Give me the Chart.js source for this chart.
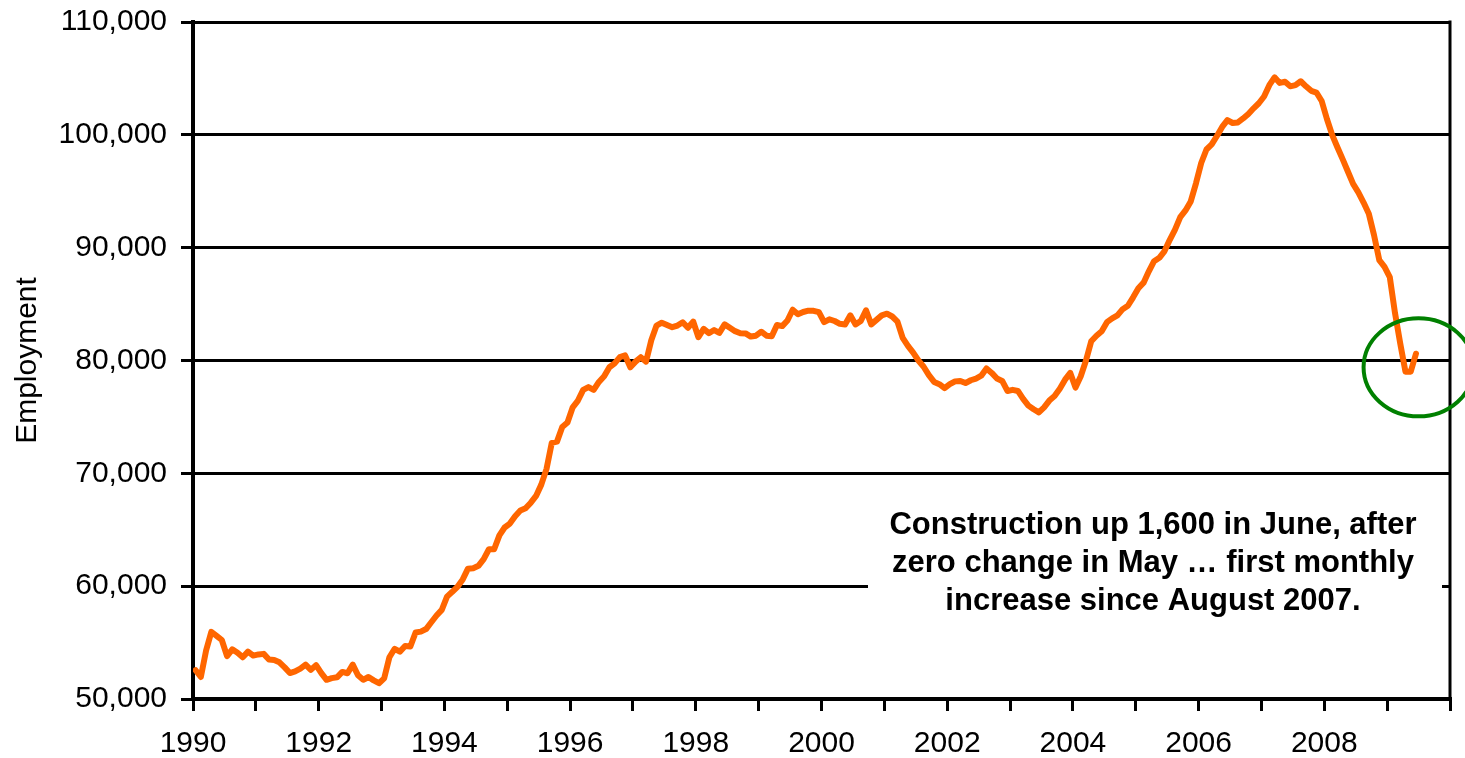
<!DOCTYPE html>
<html>
<head>
<meta charset="utf-8">
<script src="https://cdn.jsdelivr.net/npm/chart.js@4.4.1/dist/chart.umd.min.js"></script>
<style>
body { margin: 0; background: #fff; }
#wrap { width: 1465px; height: 758px; }
</style>
</head>
<body>
<div id="wrap"><canvas id="chart" width="1465" height="758"></canvas></div>
<script>
const FONT = "'Liberation Sans', Arial, sans-serif";

// monthly employment, Jan 1990 .. Jun 2009
const startYear = 1990;
const employment = [
  52550, 51950, 54300, 55950, 55600, 55230, 53800, 54400, 54100, 53700, 54200, 53850, // 1990
  53950, 54000, 53500, 53460, 53250, 52800, 52300, 52450, 52700, 53050, 52580, 53000, // 1991
  52300, 51700, 51850, 51920, 52400, 52280, 53050, 52100, 51700, 51950, 51650, 51400, // 1992
  51830, 53700, 54450, 54200, 54700, 54650, 55900, 55970, 56200, 56800, 57400, 57900, // 1993
  59070, 59500, 59950, 60600, 61550, 61590, 61800, 62400, 63270, 63270, 64500, 65200, // 1994
  65550, 66200, 66700, 66900, 67400, 68000, 69000, 70400, 72700, 72810, 74100, 74500, // 1995
  75850, 76450, 77400, 77640, 77390, 78100, 78600, 79400, 79750, 80300, 80450, 79400, // 1996
  79900, 80290, 79900, 81800, 83100, 83350, 83150, 82950, 83100, 83390, 82900, 83450, // 1997
  82060, 82800, 82420, 82700, 82450, 83200, 82900, 82600, 82420, 82400, 82120, 82200, // 1998
  82550, 82200, 82150, 83150, 83050, 83550, 84500, 84100, 84300, 84420, 84400, 84280, // 1999
  83400, 83650, 83500, 83250, 83200, 84000, 83200, 83500, 84450, 83200, 83600, 84000, // 2000
  84150, 83900, 83450, 82000, 81300, 80700, 80000, 79450, 78700, 78100, 77900, 77550, // 2001
  77900, 78150, 78190, 78000, 78250, 78400, 78650, 79300, 78900, 78400, 78190, 77300, // 2002
  77400, 77300, 76600, 76000, 75680, 75400, 75850, 76450, 76850, 77500, 78300, 78900, // 2003
  77600, 78600, 80000, 81700, 82200, 82600, 83400, 83740, 84000, 84550, 84850, 85600, // 2004
  86400, 86900, 87900, 88800, 89100, 89700, 90700, 91600, 92700, 93300, 94100, 95700, // 2005
  97500, 98700, 99150, 99900, 100700, 101300, 101050, 101100, 101450, 101850, 102350, 102800, // 2006
  103400, 104400, 105100, 104600, 104700, 104300, 104400, 104750, 104300, 103900, 103750, 103000, // 2007
  101400, 100000, 98900, 97850, 96750, 95650, 94900, 94000, 93000, 91100, 88900, 88300, // 2008
  87400, 84200, 81500, 79000, 79000, 80600 // 2009
];

const yearLabels = [1990, 1992, 1994, 1996, 1998, 2000, 2002, 2004, 2006, 2008];
const noteLines = [
  'Construction up 1,600 in June, after',
  'zero change in May \u2026 first monthly',
  'increase since August 2007.'
];

// each month sits mid-month on the year axis
const points = employment.map((v, i) => ({ x: startYear + (i + 0.5) / 12, y: v }));

const overlay = {
  id: 'overlay',
  afterDraw(chart) {
    const { ctx, chartArea: a, scales: { x, y } } = chart;
    ctx.save();

    // note box hides the gridline behind it
    ctx.fillStyle = '#fff';
    ctx.fillRect(868, 495, 574, 150);
    ctx.fillStyle = '#000';
    ctx.font = 'bold 31px ' + FONT;
    ctx.textAlign = 'center';
    ctx.textBaseline = 'middle';
    noteLines.forEach((t, i) => ctx.fillText(t, 1153, 525 + i * 38));

    // right frame line
    ctx.strokeStyle = '#000';
    ctx.lineWidth = 3;
    ctx.beginPath();
    ctx.moveTo(a.right, a.top - 1.5);
    ctx.lineTo(a.right, a.bottom);
    ctx.stroke();

    // green ring round the latest months
    ctx.strokeStyle = '#008000';
    ctx.lineWidth = 4;
    ctx.beginPath();
    ctx.ellipse(x.getPixelForValue(2009.5), y.getPixelForValue(79400), 55, 49, 0, 0, Math.PI * 2);
    ctx.stroke();
    ctx.restore();
  }
};

new Chart(document.getElementById('chart'), {
  type: 'line',
  data: {
    datasets: [{
      data: points,
      borderColor: '#FF6600',
      borderWidth: 6,
      pointRadius: 0,
      tension: 0,
      borderJoinStyle: 'round',
      borderCapStyle: 'round'
    }]
  },
  options: {
    responsive: false,
    animation: false,
    layout: { padding: { top: 22, right: 15, bottom: 0, left: 0 } },
    plugins: {
      legend: { display: false },
      tooltip: { enabled: false }
    },
    scales: {
      x: {
        type: 'linear',
        min: 1990,
        max: 2010,
        ticks: {
          stepSize: 1,
          autoSkip: false,
          maxRotation: 0,
          padding: 15,
          color: '#000',
          font: { family: FONT, size: 30 },
          callback: v => yearLabels.includes(v) ? String(v) : ''
        },
        grid: { drawOnChartArea: false, tickLength: 12, color: '#000', lineWidth: 3 },
        border: { color: '#000', width: 4 },
        afterFit: s => { s.height = 59; }
      },
      y: {
        min: 50000,
        max: 110000,
        ticks: {
          stepSize: 10000,
          padding: 14,
          color: '#000',
          font: { family: FONT, size: 30 },
          callback: v => v.toLocaleString('en-US')
        },
        grid: { color: '#000', lineWidth: 3, tickLength: 12 },
        border: { color: '#000', width: 4 },
        title: {
          display: true,
          text: 'Employment',
          color: '#000',
          font: { family: FONT, size: 30 },
          padding: { top: 10, bottom: 0 }
        },
        afterFit: s => {
          s.width = 193;
          s.paddingTop = 0;
          s.paddingBottom = 0;
        }
      }
    }
  },
  plugins: [overlay]
});
</script>
</body>
</html>
